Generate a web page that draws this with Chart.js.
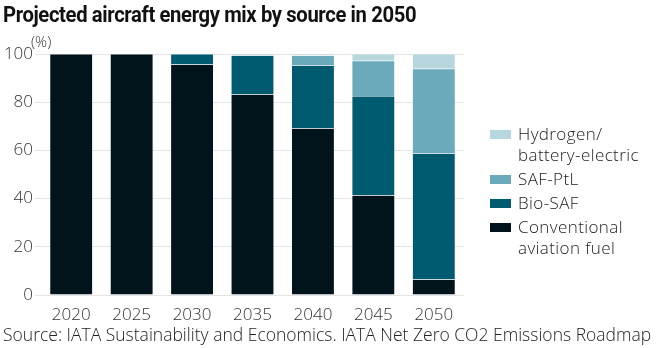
<!DOCTYPE html>
<html>
<head>
<meta charset="utf-8">
<script src="https://cdn.jsdelivr.net/npm/chart.js@4"></script>
<style>
  body { margin: 0; background: #fff; font-family: "Open Sans", sans-serif; }
  #wrap { position: relative; width: 660px; height: 348px; }
  #chart { position: absolute; left: 0; top: 0; }
  .title { position: absolute; left: 3px; top: 2px; font-family: "Roboto", sans-serif; font-size: 22px; font-weight: 700; color: #111;
           letter-spacing: -0.4px; transform: scaleX(0.92); transform-origin: left top; white-space: nowrap; }
  .unit { position: absolute; left: 31px; top: 31px; font-size: 15px; font-weight: 300; color: #333; }
  .source { position: absolute; left: 3px; top: 322px; font-size: 17.5px; font-weight: 300; color: #222; white-space: nowrap; }
  #legend { position: absolute; left: 490px; top: 123px; font-size: 17px; letter-spacing: 0.4px; font-weight: 300; color: #222; }
  .item { display: flex; align-items: flex-start; margin-bottom: 3px; line-height: 21px; }
  .box { width: 21px; height: 9px; margin-top: 7px; margin-right: 7px; flex: none; }
</style>
</head>
<body>
<div id="wrap">
  <canvas id="chart" width="660" height="348"></canvas>
  <div class="title">Projected aircraft energy mix by source in 2050</div>
  <div class="unit">(%)</div>
  <div id="legend"></div>
  <div class="source">Source: IATA Sustainability and Economics. IATA Net Zero CO2 Emissions Roadmap</div>
</div>
<script>
/* ---------- Data ---------- */
const YEARS = ["2020", "2025", "2030", "2035", "2040", "2045", "2050"];
const CONVENTIONAL = [100, 100, 95.6, 83.3, 69.2, 41.4, 6.4];
const BIO_SAF      = [0, 0, 4.4, 16.1, 26.1, 41.2, 52.4];
const SAF_PTL      = [0, 0, 0, 0.5, 4.1, 14.6, 35.1];
const HYDROGEN     = [0, 0, 0, 0.1, 0.6, 2.8, 6.1];
const Y_TICKS = [0, 20, 40, 60, 80, 100];

const SERIES = [
  {label: "Conventional", legend: ["Conventional", "aviation fuel"], data: CONVENTIONAL, color: "#01141c"},
  {label: "Bio-SAF", legend: ["Bio-SAF"], data: BIO_SAF, color: "#005a70"},
  {label: "SAF-PtL", legend: ["SAF-PtL"], data: SAF_PTL, color: "#6aaabb"},
  {label: "Hydrogen/battery-electric", legend: ["Hydrogen/", "battery-electric"], data: HYDROGEN, color: "#b7d7de"},
];

/* ---------- Legend ---------- */
const legendEl = document.getElementById("legend");
SERIES.slice().reverse().forEach(s => {
  const item = document.createElement("div");
  item.className = "item";
  const box = document.createElement("div");
  box.className = "box";
  box.style.background = s.color;
  const txt = document.createElement("div");
  txt.innerHTML = s.legend.join("<br>");
  item.appendChild(box);
  item.appendChild(txt);
  legendEl.appendChild(item);
});

/* ---------- Chart ---------- */
const tickFont = {family: "Open Sans", size: 17, weight: 300};

new Chart(document.getElementById("chart"), {
  type: "bar",
  data: {
    labels: YEARS,
    datasets: SERIES.map(s => ({
      label: s.label,
      data: s.data,
      backgroundColor: s.color,
      borderColor: "rgba(255,255,255,0.25)",
      borderWidth: 0.5,
      barPercentage: 0.71,
      categoryPercentage: 1
    }))
  },
  options: {
    responsive: false,
    animation: false,
    layout: { padding: {left: 0, right: 196, top: 54, bottom: 0} },
    plugins: { legend: {display: false}, tooltip: {enabled: false} },
    scales: {
      x: {
        stacked: true,
        grid: {display: false},
        border: {display: false},
        ticks: {color: "#333", font: tickFont, padding: 2},
        afterFit: s => { s.height = 53; }
      },
      y: {
        stacked: true,
        min: 0,
        max: 100,
        afterBuildTicks: s => { s.ticks = Y_TICKS.map(v => ({value: v})); },
        grid: {color: "#e4e4e4", lineWidth: 1, drawTicks: true, tickLength: 6, tickColor: "#e4e4e4"},
        border: {display: false},
        ticks: {color: "#333", font: tickFont, padding: 2},
        afterFit: s => { s.width = 41; }
      }
    }
  }
});
</script>
</body>
</html>
